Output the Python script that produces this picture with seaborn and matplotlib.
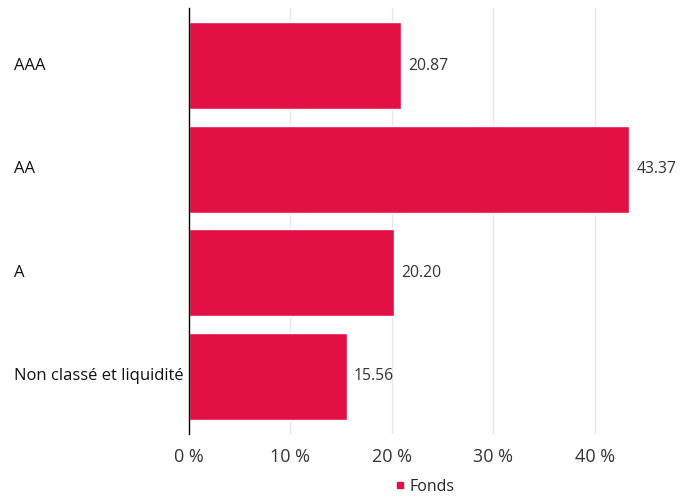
import matplotlib
matplotlib.use("Agg")
from matplotlib import pyplot as plt
from matplotlib.lines import Line2D
import seaborn as sns
import pandas as pd

BAR_COLOR = "#E31045"

categories = ["AAA", "AA", "A", "Non classé et liquidité"]
fonds = [20.87, 43.37, 20.20, 15.56]
x_ticks = [0, 10, 20, 30, 40]
x_tick_labels = ["0 %", "10 %", "20 %", "30 %", "40 %"]
series_name = "Fonds"

df = pd.DataFrame({"category": categories, "value": fonds})

sns.set_style("white")
plt.rcParams["font.family"] = ["Open Sans", "DejaVu Sans"]

fig = plt.figure(figsize=(6.91, 4.98), dpi=100)
ax = fig.add_axes([189 / 691, 1 - 434 / 498, (676 - 189) / 691, (434 - 8) / 498])

sns.barplot(data=df, y="category", x="value", orient="h", color=BAR_COLOR,
            width=0.84, saturation=1, ax=ax, zorder=3)

ax.set_xlim(0, 48)
ax.set_ylim(3.555, -0.555)

# grid only at the labelled ticks, not at 0 (axis line is there)
for t in x_ticks[1:]:
    ax.axvline(t, color="#e8e8e8", linewidth=1, zorder=0)

ax.set_xticks(x_ticks)
ax.set_xticklabels(x_tick_labels, fontsize=13, color="#333333")
ax.tick_params(axis="x", length=0, pad=10)

# category labels are left aligned near the figure edge
ax.set_yticks(range(len(categories)))
ax.set_yticklabels([])
ax.tick_params(axis="y", length=0)
for i, cat in enumerate(categories):
    ax.text(-175 / 487, i, cat, transform=ax.get_yaxis_transform(), ha="left", va="center",
            fontsize=12, color="#111111")
ax.set_xlabel("")
ax.set_ylabel("")

for s in ["top", "right", "bottom"]:
    ax.spines[s].set_visible(False)
ax.spines["left"].set_color("black")
ax.spines["left"].set_linewidth(1)
ax.spines["left"].set_zorder(4)

for i, v in enumerate(fonds):
    ax.text(v + 0.7, i, f"{v:.2f}", va="center", ha="left", fontsize=11.3, color="#333333")

handle = Line2D([], [], marker="s", linestyle="none", color=BAR_COLOR, markersize=4)
fig.legend([handle], [series_name], loc="center", bbox_to_anchor=(424 / 691, 1 - 487 / 498),
           frameon=False, fontsize=11.5, handletextpad=0.2, handlelength=0.8)

fig.savefig("out.png", dpi=100)
